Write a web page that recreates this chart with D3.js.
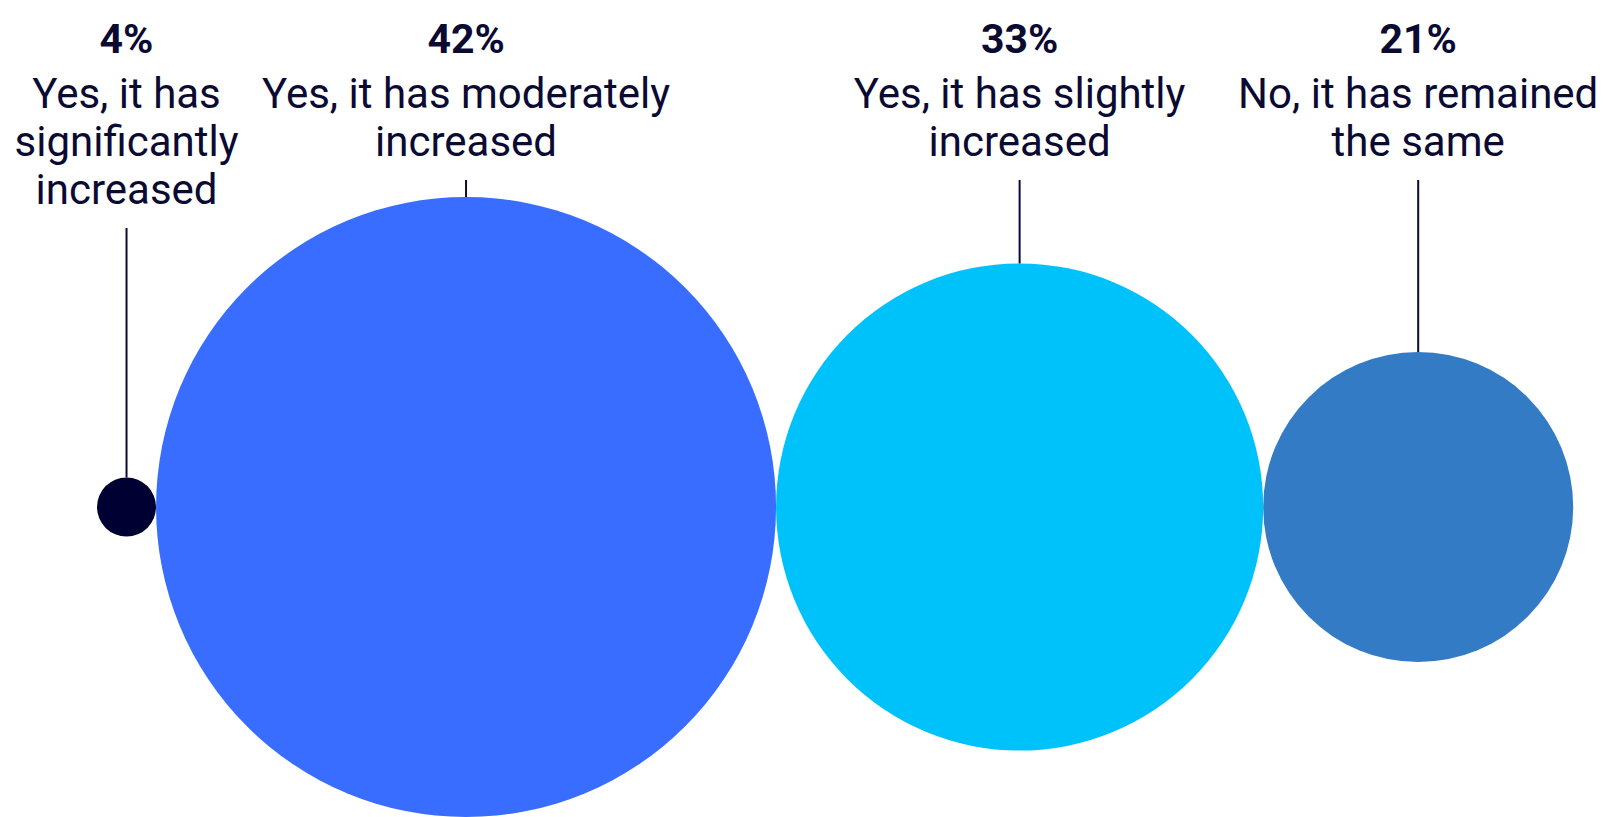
<!DOCTYPE html>
<html>
<head>
<meta charset="utf-8">
<script src="https://cdn.jsdelivr.net/npm/d3@7"></script>
<style>
  html, body { margin: 0; padding: 0; background: #fff; }
  svg { display: block; }
</style>
</head>
<body>
<svg id="chart"></svg>
<script>
const width = 1611
const height = 817

// data
const answers = [
  ['Yes, it has', 'significantly', 'increased'],
  ['Yes, it has moderately', 'increased'],
  ['Yes, it has slightly', 'increased'],
  ['No, it has remained', 'the same'],
]
const shares = [4, 42, 33, 21]
const colors = ['#000032', '#386dff', '#00c2fa', '#337bc4']

const svg = d3
  .select('#chart')
  .attr('width', width)
  .attr('height', height)
  .attr('viewBox', [0, 0, width, height])

// radius grows linearly with the share
const r = d3.scaleLinear().domain([0, 42]).range([0, 310])

const left = 97
const cy = 507

// pack the circles side by side, each touching the next
let cursor = left
const nodes = shares.map((v, i) => {
  const rad = r(v)
  const cx = cursor + rad
  cursor += rad * 2
  return { value: v, label: answers[i], color: colors[i], r: rad, cx: cx }
})

// --------------------------------------------------------------
// circles
svg
  .append('g')
  .selectAll('circle')
  .data(nodes)
  .join('circle')
  .attr('cx', (d) => d.cx)
  .attr('cy', cy)
  .attr('r', (d) => d.r)
  .attr('fill', (d) => d.color)

// --------------------------------------------------------------
// labels
const pctBase = 53
const lineBase = 108
const lineStep = 48

const labels = svg
  .append('g')
  .selectAll('g')
  .data(nodes)
  .join('g')
  .attr('transform', (d) => `translate(${d.cx},0)`)

labels
  .append('text')
  .attr('y', pctBase)
  .attr('text-anchor', 'middle')
  .attr('font-family', 'Roboto, sans-serif')
  .attr('font-weight', 700)
  .attr('font-size', 41)
  .attr('fill', '#0a0a33')
  .text((d) => d.value + '%')

labels
  .append('text')
  .attr('text-anchor', 'middle')
  .attr('font-family', 'Roboto, sans-serif')
  .attr('font-size', 42)
  .attr('fill', '#0a0a33')
  .selectAll('tspan')
  .data((d) => d.label)
  .join('tspan')
  .attr('x', 0)
  .attr('y', (d, i) => lineBase + i * lineStep)
  .text((d) => d)

// connector from the label down to the top of the circle
labels
  .append('line')
  .attr('x1', 0)
  .attr('x2', 0)
  .attr('y1', (d) => lineBase + (d.label.length - 1) * lineStep + 24)
  .attr('y2', (d) => cy - d.r)
  .attr('stroke', '#0a0a33')
  .attr('stroke-width', 2)
</script>
</body>
</html>
